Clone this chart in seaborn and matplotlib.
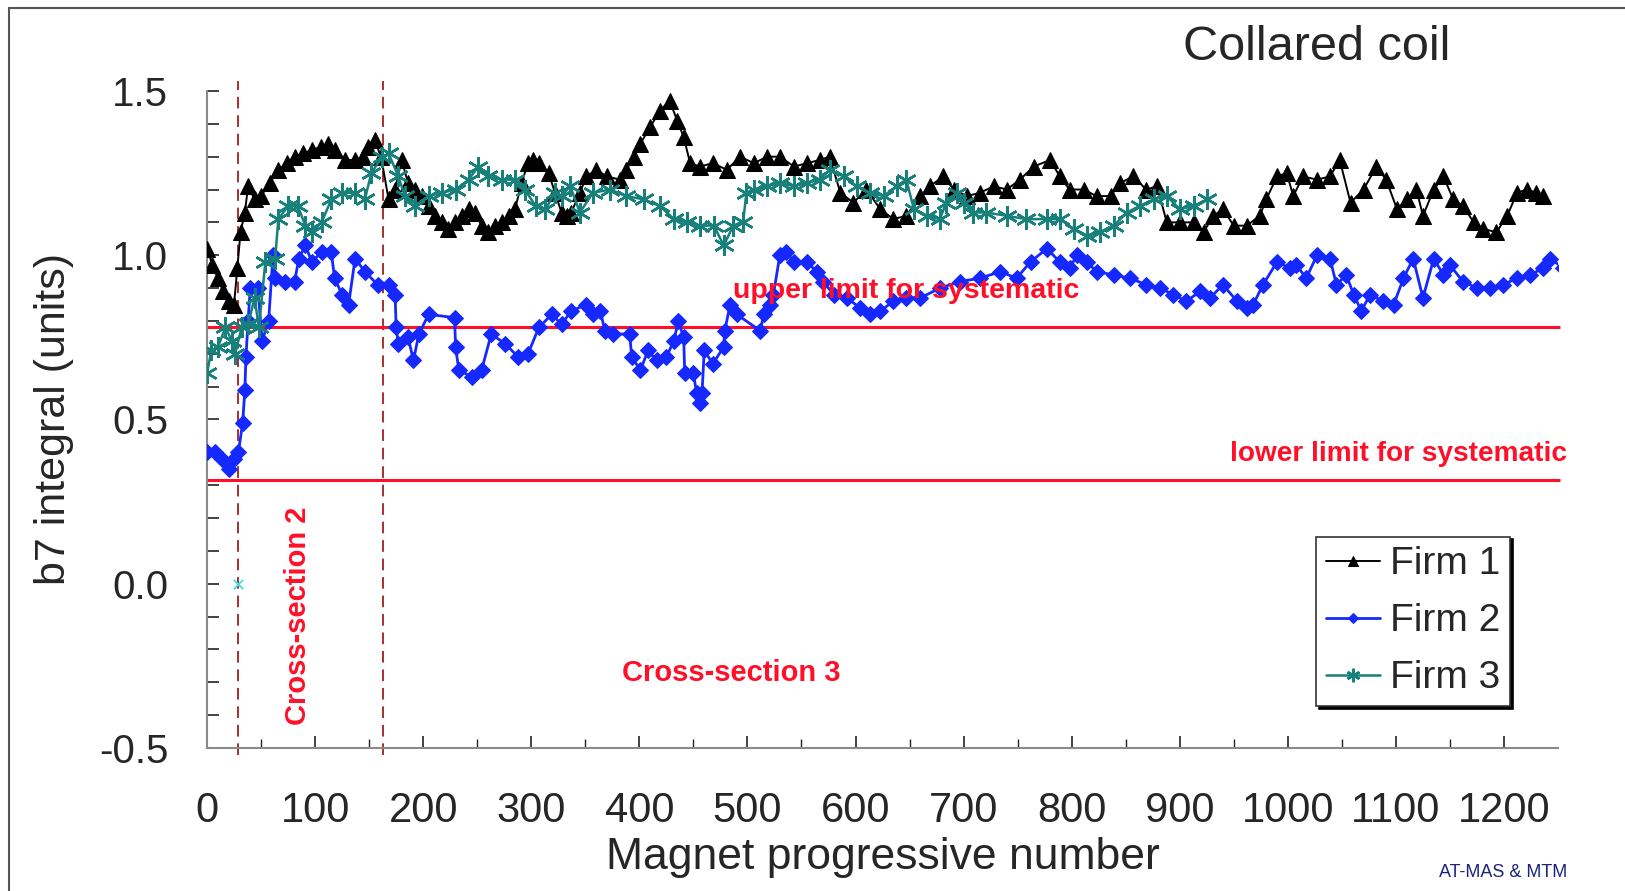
import matplotlib
matplotlib.use("Agg")
import matplotlib.pyplot as plt
import numpy as np
import pandas as pd
import seaborn as sns
from matplotlib.lines import Line2D
from matplotlib.ticker import FixedLocator, FormatStrFormatter, MultipleLocator

# b7 integral per magnet
firm1_x = [0, 5, 10, 15, 20, 25, 28, 31, 35, 38,
           44, 50, 58, 66, 74, 81, 89, 97, 105, 112,
           118, 128, 137, 144, 149, 155, 161, 168, 174, 180,
           186, 192, 199, 205, 211, 217, 223, 229, 236, 242,
           248, 254, 260, 266, 273, 279, 285, 291, 297, 302,
           307, 316, 322, 328, 333, 337, 345, 351, 360, 370,
           382, 388, 395, 401, 410, 419, 428, 435, 441, 447,
           456, 468, 481, 493, 506, 518, 530, 543, 555, 567,
           576, 586, 598, 610, 623, 635, 647, 660, 669, 681,
           691, 703, 715, 728, 740, 752, 765, 780, 789, 798,
           811, 823, 836, 845, 857, 869, 879, 888, 900, 913,
           922, 931, 940, 950, 962, 974, 980, 990, 999, 1005,
           1014, 1027, 1039, 1048, 1058, 1070, 1082, 1091, 1101, 1110,
           1119, 1125, 1135, 1144, 1153, 1162, 1172, 1181, 1193, 1203,
           1212, 1221, 1230, 1236]
firm1_y = [1.02, 0.97, 0.93, 0.89, 0.86, 0.85, 0.96, 1.07, 1.13, 1.21,
           1.17, 1.18, 1.22, 1.26, 1.28, 1.30, 1.31, 1.32, 1.33, 1.34,
           1.32, 1.29, 1.29, 1.30, 1.33, 1.35, 1.30, 1.17, 1.20, 1.29,
           1.22, 1.20, 1.18, 1.15, 1.12, 1.10, 1.08, 1.10, 1.12, 1.14,
           1.13, 1.09, 1.07, 1.09, 1.10, 1.12, 1.14, 1.22, 1.28, 1.29,
           1.28, 1.25, 1.19, 1.13, 1.12, 1.13, 1.19, 1.24, 1.26, 1.24,
           1.23, 1.26, 1.30, 1.34, 1.39, 1.44, 1.47, 1.41, 1.36, 1.28,
           1.27, 1.28, 1.26, 1.30, 1.28, 1.30, 1.30, 1.27, 1.28, 1.29,
           1.30, 1.19, 1.16, 1.20, 1.14, 1.11, 1.12, 1.18, 1.21, 1.24,
           1.20, 1.18, 1.19, 1.21, 1.20, 1.23, 1.27, 1.29, 1.24, 1.20,
           1.20, 1.18, 1.18, 1.22, 1.24, 1.20, 1.21, 1.10, 1.10, 1.10,
           1.07, 1.12, 1.14, 1.09, 1.09, 1.12, 1.17, 1.24, 1.25, 1.18,
           1.24, 1.23, 1.24, 1.29, 1.16, 1.20, 1.27, 1.23, 1.14, 1.17,
           1.20, 1.12, 1.20, 1.24, 1.17, 1.15, 1.10, 1.08, 1.07, 1.12,
           1.19, 1.20, 1.19, 1.18]

firm2_x = [0, 7, 14, 20, 25, 29, 33, 35, 36, 38,
           40, 47, 51, 57, 61, 63, 72, 81, 85, 91,
           97, 106, 115, 118, 125, 131, 137, 146, 158, 168,
           174, 175, 177, 186, 191, 196, 205, 229, 230, 233,
           245, 254, 263, 276, 288, 297, 307, 319, 328, 337,
           351, 357, 364, 368, 376, 391, 393, 401, 408, 416,
           425, 432, 436, 441, 442, 450, 453, 456, 458, 460,
           468, 478, 479, 484, 490, 512, 515, 521, 524, 530,
           536, 543, 555, 564, 570, 580, 592, 604, 613, 623,
           635, 647, 660, 678, 697, 715, 734, 749, 762, 777,
           789, 798, 805, 814, 823, 839, 854, 869, 882, 894,
           906, 919, 928, 940, 953, 962, 968, 977, 990, 1002,
           1008, 1017, 1027, 1039, 1045, 1054, 1061, 1068, 1076, 1088,
           1098, 1107, 1116, 1125, 1135, 1144, 1150, 1162, 1175, 1187,
           1199, 1212, 1224, 1236, 1243, 1255]
firm2_y = [0.40, 0.40, 0.38, 0.35, 0.38, 0.40, 0.49, 0.59, 0.69, 0.80,
           0.90, 0.90, 0.74, 0.80, 1.00, 0.93, 0.92, 0.92, 0.99, 1.03,
           0.98, 1.01, 1.01, 0.93, 0.88, 0.85, 0.99, 0.95, 0.91, 0.91,
           0.88, 0.78, 0.73, 0.75, 0.68, 0.76, 0.82, 0.81, 0.72, 0.65,
           0.63, 0.65, 0.76, 0.73, 0.69, 0.70, 0.78, 0.82, 0.79, 0.83,
           0.85, 0.82, 0.83, 0.77, 0.76, 0.76, 0.69, 0.65, 0.71, 0.68,
           0.69, 0.74, 0.80, 0.75, 0.64, 0.64, 0.58, 0.55, 0.58, 0.71,
           0.67, 0.72, 0.77, 0.85, 0.82, 0.77, 0.82, 0.85, 0.88, 1.00,
           1.01, 0.98, 0.98, 0.95, 0.92, 0.88, 0.87, 0.84, 0.82, 0.83,
           0.86, 0.87, 0.87, 0.90, 0.92, 0.93, 0.95, 0.93, 0.98, 1.02,
           0.98, 0.96, 1.00, 0.98, 0.95, 0.94, 0.93, 0.91, 0.90, 0.88,
           0.86, 0.89, 0.87, 0.91, 0.86, 0.84, 0.85, 0.91, 0.98, 0.96,
           0.97, 0.93, 1.00, 0.99, 0.91, 0.94, 0.88, 0.83, 0.88, 0.86,
           0.85, 0.93, 0.99, 0.87, 0.99, 0.94, 0.97, 0.92, 0.90, 0.90,
           0.91, 0.93, 0.94, 0.96, 0.99, 0.96]

firm3_x = [0, 4, 10, 17, 23, 26, 32, 38, 44, 48,
           54, 63, 66, 75, 84, 91, 97, 106, 115, 125,
           137, 146, 152, 162, 168, 177, 183, 192, 205, 217,
           230, 242, 251, 260, 273, 285, 294, 304, 313, 322,
           328, 336, 345, 357, 373, 388, 404, 419, 432, 444,
           456, 469, 478, 487, 496, 499, 506, 518, 530, 543,
           555, 567, 576, 589, 601, 613, 626, 638, 647, 654,
           666, 678, 684, 694, 700, 709, 721, 740, 758, 777,
           789, 802, 814, 826, 839, 851, 863, 876, 888, 900,
           913, 925]
firm3_y = [0.64, 0.71, 0.72, 0.78, 0.74, 0.70, 0.78, 0.79, 0.87, 0.78,
           0.98, 0.99, 1.11, 1.15, 1.15, 1.09, 1.07, 1.10, 1.17, 1.19,
           1.19, 1.17, 1.25, 1.30, 1.31, 1.24, 1.18, 1.15, 1.18, 1.19,
           1.20, 1.23, 1.27, 1.24, 1.23, 1.23, 1.20, 1.15, 1.14, 1.19,
           1.18, 1.21, 1.13, 1.19, 1.20, 1.18, 1.17, 1.15, 1.11, 1.10,
           1.09, 1.09, 1.03, 1.09, 1.10, 1.19, 1.20, 1.21, 1.22, 1.21,
           1.22, 1.23, 1.26, 1.24, 1.21, 1.19, 1.18, 1.21, 1.23, 1.14,
           1.12, 1.11, 1.16, 1.19, 1.16, 1.13, 1.13, 1.12, 1.11, 1.11,
           1.11, 1.08, 1.06, 1.07, 1.09, 1.13, 1.15, 1.17, 1.18, 1.14,
           1.15, 1.17]

stray_x = [29]
stray_y = [0.0]

upper_limit = 0.783
lower_limit = 0.317
section_bounds = [29, 163]

RED = "#ff1028"

sns.set_style("white")
plt.rcParams["font.family"] = ["Liberation Sans", "DejaVu Sans"]
plt.rcParams["axes.unicode_minus"] = False

fig = plt.figure(figsize=(16.25, 8.91), dpi=100)
ax = fig.add_axes([0.1274, 0.1605, 0.8314, 0.7374])

# cross-section boundaries and systematic limits
ax.vlines(section_bounds, -0.52, 1.53, colors="#a5302f", linestyles=(0, (6, 3.5)),
          linewidth=1.4, clip_on=False, zorder=1)
ax.hlines([upper_limit, lower_limit], 0, 1252, colors=RED, linewidth=2.2,
          clip_on=False, zorder=1.5)

df1 = pd.DataFrame({"x": firm1_x, "y": firm1_y})
df2 = pd.DataFrame({"x": firm2_x, "y": firm2_y})
df3 = pd.DataFrame({"x": firm3_x, "y": firm3_y})

sns.lineplot(data=df1, x="x", y="y", ax=ax, color="black", marker="^", markersize=12,
             markeredgecolor="black", linewidth=1.4, estimator=None, sort=False,
             label="Firm 1", zorder=3)
sns.lineplot(data=df2, x="x", y="y", ax=ax, color="#1428ff", marker="D", markersize=8,
             markeredgecolor="#1428ff", linewidth=2.0, estimator=None, sort=False,
             label="Firm 2", zorder=3.2)
sns.lineplot(data=df3, x="x", y="y", ax=ax, color="#17807a", marker=(6, 2, 0), markersize=15,
             markeredgecolor="#17807a", markeredgewidth=1.8, linewidth=1.8, estimator=None,
             sort=False, label="Firm 3", zorder=3.4)
sns.scatterplot(x=stray_x, y=stray_y, ax=ax, marker="x", color="#3fe0e0", s=45,
                linewidth=1.3, legend=False, zorder=3)

ax.set_xlim(0, 1250)
ax.set_ylim(-0.5, 1.5)
ax.xaxis.set_major_locator(MultipleLocator(100))
ax.xaxis.set_minor_locator(FixedLocator(np.arange(50, 1250, 100)))
ax.yaxis.set_major_locator(MultipleLocator(0.5))
ax.yaxis.set_minor_locator(MultipleLocator(0.1))
ax.yaxis.set_major_formatter(FormatStrFormatter("%.1f"))

ax.tick_params(bottom=True, left=True, which="both")
ax.tick_params(axis="x", which="major", direction="in", length=8.5, width=1.2,
               color="#222222", pad=31, labelsize=30)
ax.tick_params(axis="x", which="minor", direction="in", length=6.3, width=1.0, color="#222222")
ax.tick_params(axis="y", which="both", direction="in", length=8.5, width=1.2, color="#222222")
ax.tick_params(axis="y", which="major", pad=28, labelsize=29)

for side in ["top", "right"]:
    ax.spines[side].set_visible(False)
for side in ["left", "bottom"]:
    ax.spines[side].set_color("#8a8a8a")
    ax.spines[side].set_linewidth(1.5)

ax.set_xlabel("Magnet progressive number", fontsize=32)
ax.xaxis.set_label_coords(0.5, -0.1355)
ax.set_ylabel("b7 integral (units)", fontsize=31)
ax.yaxis.set_label_coords(-0.0985, 0.5)

ax.text(486.5, 0.870, "upper limit for systematic", color=RED, fontsize=20.5,
        fontweight="bold", ha="left", va="baseline", zorder=5)
ax.text(1258, 0.375, "lower limit for systematic", color=RED, fontsize=20.2,
        fontweight="bold", ha="right", va="baseline", zorder=5)
ax.text(485, -0.296, "Cross-section 3", color=RED, fontsize=21,
        fontweight="bold", ha="center", va="baseline")
ax.text(84.2, -0.098, "Cross-section 2", color=RED, fontsize=21,
        fontweight="bold", ha="center", va="center", rotation=90)

handles, labels = ax.get_legend_handles_labels()
leg = ax.legend(handles, labels, loc="lower right", bbox_to_anchor=(0.9645, 0.064),
                borderaxespad=0, fontsize=28, frameon=True, fancybox=False,
                shadow={"color": "black", "alpha": 1}, edgecolor="#333333",
                framealpha=1, handlelength=1.4, handletextpad=0.25,
                labelspacing=0.54, borderpad=0.25)
leg.get_frame().set_linewidth(1.2)
for line in leg.get_lines():
    line.set_markersize(line.get_markersize() * 0.65)

fig.text(0.8105, 0.933, "Collared coil", fontsize=35, ha="center", va="baseline")
fig.text(0.9643, 0.0157, "AT-MAS & MTM", fontsize=13, color="#1c237e",
         ha="right", va="baseline")

# frame around the slide
fig.add_artist(Line2D([0.0055, 0.0055], [0, 0.991], transform=fig.transFigure,
                      color="#555555", linewidth=1.5))
fig.add_artist(Line2D([0.0055, 1], [0.991, 0.991], transform=fig.transFigure,
                      color="#555555", linewidth=1.5))

fig.savefig("out.png", dpi=100)
